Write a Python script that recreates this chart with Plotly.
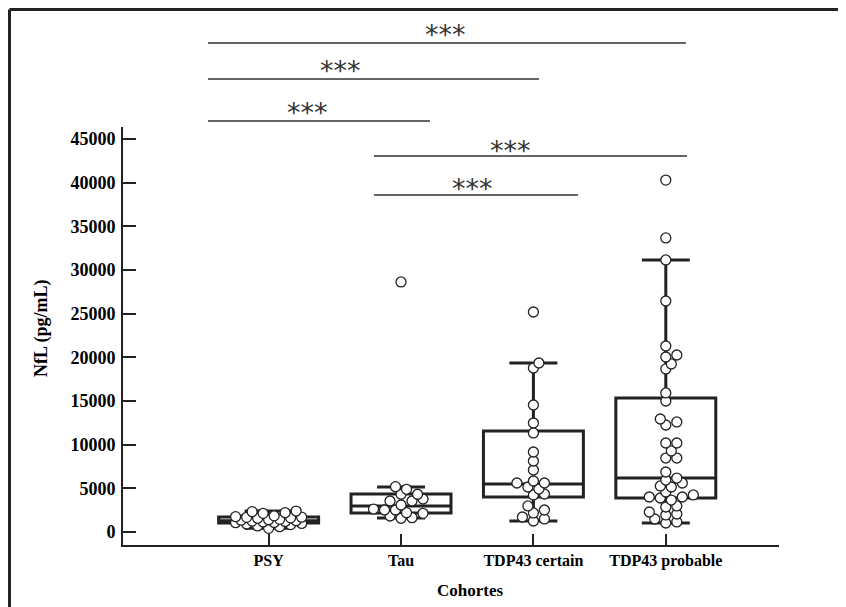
import plotly.graph_objects as go

# ---------------- data ----------------
categories = ["PSY", "Tau", "TDP43 certain", "TDP43 probable"]

psy_values = [420, 610, 700, 850, 915, 980, 1070, 1100, 1150, 1200, 1250, 1300, 1350,
              1400, 1450, 1570, 1620, 1680, 1700, 1760, 1850, 2140, 2210, 2330, 2400]
tau_values = [1570, 1640, 1830, 2140, 2210, 2520, 2520, 2630, 3090, 3550, 3550, 3780,
              4320, 4320, 4890, 5190, 28630]
tdp_certain_values = [1260, 1500, 1720, 2180, 2520, 2980, 4240, 4350, 4920, 5150, 5610,
                      5610, 5840, 7100, 8130, 9160, 11340, 12480, 14540, 18780, 19350, 25190]
tdp_probable_values = [1030, 1150, 1490, 1950, 2060, 2290, 2860, 2980, 3660, 3890, 4010,
                       4010, 4240, 4580, 5150, 5270, 5610, 5950, 6180, 6870, 8470, 8470,
                       9280, 10190, 10190, 12250, 12600, 12940, 15000, 15920, 18670, 19240,
                       20040, 20270, 21300, 26450, 31150, 33670, 40300]

# box statistics
box_q1 = [1030, 2175, 4010, 3890]
box_median = [1300, 2980, 5500, 6180]
box_q3 = [1720, 4350, 11570, 15340]
box_lower = [420, 1600, 1260, 1030]
box_upper = [2400, 5150, 19350, 31150]

y_tick_values = [0, 5000, 10000, 15000, 20000, 25000, 30000, 35000, 40000, 45000]
y_tick_labels = [str(v) for v in y_tick_values]

sig_labels = ["***", "***", "***", "***", "***"]

# ---------------- layout constants ----------------
OFF = 8                       # default page margin of the html body
W, H = 846 - OFF, 607 - OFF
P_LEFT, P_RIGHT, P_TOP, P_BOTTOM = 123, 779, 127, 545   # plot area in page pixels
ML, MT = P_LEFT - OFF, P_TOP - OFF
MR, MB = W - (P_RIGHT - OFF), H - (P_BOTTOM - OFF)
PW, PH = P_RIGHT - P_LEFT, P_BOTTOM - P_TOP
XR = [-1.1, 3.855]
YR = [-1489, 46375]
px_per_x = PW / (XR[1] - XR[0])
px_per_y = PH / (YR[1] - YR[0])

INK = "#222222"
SERIF = "Liberation Serif, Times New Roman, serif"


def swarm(values, diam=10.0, overlap=0.72, step=5.5, maxhalf=33.0):
    """deterministic beeswarm: x offsets (data units) for each value"""
    order = sorted(range(len(values)), key=lambda i: values[i])
    placed = []
    offsets = [0.0] * len(values)
    nmax = int(maxhalf // step)
    cands = [0.0]
    for k in range(1, nmax + 1):
        cands += [k * step, -k * step]
    for i in order:
        ypx = values[i] * px_per_y
        best, bestd = None, -1.0
        chosen = None
        for c in cands:
            d = min([((c - px) ** 2 + (ypx - py) ** 2) ** 0.5 for px, py in placed] or [1e9])
            if d >= diam * overlap:
                chosen = c
                break
            if d > bestd + 1e-9:
                best, bestd = c, d
        if chosen is None:
            chosen = best
        placed.append((chosen, ypx))
        offsets[i] = chosen / px_per_x
    return offsets


fig = go.Figure()
all_values = [psy_values, tau_values, tdp_certain_values, tdp_probable_values]

for i, cat in enumerate(categories):
    fig.add_trace(go.Box(
        x=[i], q1=[box_q1[i]], median=[box_median[i]], q3=[box_q3[i]],
        lowerfence=[box_lower[i]], upperfence=[box_upper[i]],
        width=0.755, whiskerwidth=0.48,
        fillcolor="white", line=dict(color=INK, width=3),
        boxpoints=False, showlegend=False, hoverinfo="skip", name=cat,
    ))

for i, vals in enumerate(all_values):
    offs = swarm(vals)
    fig.add_trace(go.Scatter(
        x=[i + o for o in offs], y=vals, mode="markers",
        marker=dict(size=10, color="white", line=dict(color=INK, width=1.3)),
        showlegend=False, cliponaxis=False, name=categories[i],
    ))


def xd(px):   # page pixel x -> data x
    return XR[0] + (px - P_LEFT) / px_per_x


def yp(py):   # page pixel y -> paper y
    return (P_BOTTOM - py) / PH


def xp(px):   # page pixel x -> paper x
    return (px - P_LEFT) / PW


# significance brackets
bracket_x = [(208, 686), (208, 539), (208, 430), (374, 687), (374, 578)]
bracket_y = [43, 79, 121, 156, 195]
star_pos = [(445, 35), (340, 71), (307, 113), (510, 150), (472, 188)]

for (x0, x1), yy in zip(bracket_x, bracket_y):
    fig.add_shape(type="line", xref="x", yref="paper", x0=xd(x0), x1=xd(x1),
                  y0=yp(yy), y1=yp(yy), line=dict(color="#333333", width=1.6))
for lab, (sx, sy) in zip(sig_labels, star_pos):
    fig.add_annotation(text=lab, xref="x", yref="paper", x=xd(sx), y=yp(sy),
                       showarrow=False, xanchor="center", yanchor="middle",
                       font=dict(family="DejaVu Sans", size=27, color="#333333"))

# frame (top + left)
fig.add_shape(type="line", xref="paper", yref="paper",
              x0=xp(9.5), x1=xp(846), y0=yp(9.5), y1=yp(9.5),
              line=dict(color=INK, width=3))
fig.add_shape(type="line", xref="paper", yref="paper",
              x0=xp(9.5), x1=xp(9.5), y0=yp(9.5), y1=yp(607),
              line=dict(color=INK, width=3))

# axis titles
fig.add_annotation(text="<b>Cohortes</b>", xref="x", yref="paper", x=xd(470), y=yp(590),
                   showarrow=False, xanchor="center", yanchor="middle",
                   font=dict(family=SERIF, size=17, color="black"))
fig.add_annotation(text="<b>NfL (pg/mL)</b>", xref="paper", yref="paper",
                   x=xp(41), y=yp(328), textangle=-90, showarrow=False,
                   xanchor="center", yanchor="middle",
                   font=dict(family=SERIF, size=18, color="black"))

fig.update_layout(
    width=W, height=H, margin=dict(l=ML, r=MR, t=MT, b=MB),
    plot_bgcolor="white", paper_bgcolor="white",
    xaxis=dict(range=XR, tickvals=[0, 1, 2, 3], ticktext=categories,
               showline=True, linecolor=INK, linewidth=2, ticks="inside",
               ticklen=11, tickwidth=2, tickcolor=INK, showgrid=False, zeroline=False,
               tickfont=dict(family=SERIF, size=16, color="black", weight="bold")),
    yaxis=dict(range=YR, tickvals=y_tick_values, ticktext=y_tick_labels,
               showline=True, linecolor=INK, linewidth=2, ticks="inside",
               ticklen=13, tickwidth=2, tickcolor=INK, showgrid=False, zeroline=False,
               ticklabelstandoff=2,
               tickfont=dict(family=SERIF, size=18, color="black", weight="bold")),
)

fig.write_html("out.html")
